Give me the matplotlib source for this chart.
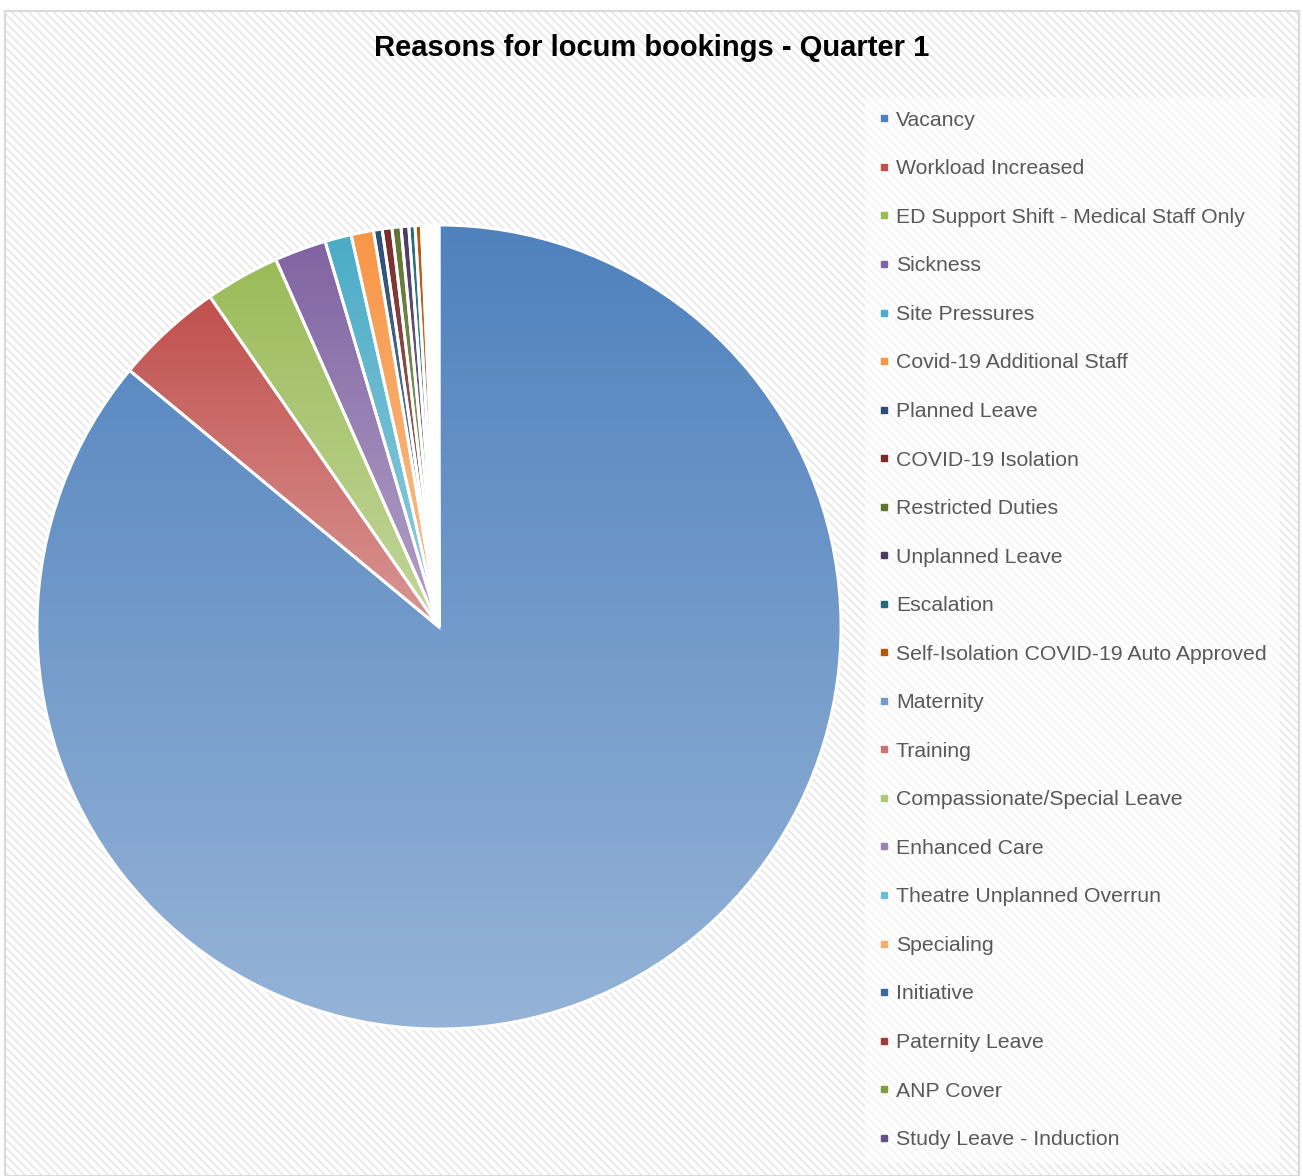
import numpy as np
import matplotlib
matplotlib.use("Agg")
import matplotlib.pyplot as plt
from matplotlib.patches import Rectangle
from matplotlib.lines import Line2D
from matplotlib.colors import to_rgb

plt.rcParams['font.family'] = ['Liberation Sans', 'DejaVu Sans']

title = "Reasons for locum bookings - Quarter 1"
categories = [
    "Vacancy", "Workload Increased", "ED Support Shift - Medical Staff Only",
    "Sickness", "Site Pressures", "Covid-19 Additional Staff", "Planned Leave",
    "COVID-19 Isolation", "Restricted Duties", "Unplanned Leave", "Escalation",
    "Self-Isolation COVID-19 Auto Approved", "Maternity", "Training",
    "Compassionate/Special Leave", "Enhanced Care", "Theatre Unplanned Overrun",
    "Specialing", "Initiative", "Paternity Leave", "ANP Cover",
    "Study Leave - Induction",
]
values = [86.0, 4.33, 3.0, 2.08, 1.06, 0.90, 0.35, 0.39, 0.36, 0.31, 0.25,
          0.25, 0.11, 0.10, 0.09, 0.08, 0.07, 0.06, 0.06, 0.05, 0.04, 0.04]
colors = [
    "#4F81BD", "#C0504D", "#9BBB59", "#8064A2", "#4BACC6", "#F79646",
    "#2C4D75", "#772C2A", "#5F7530", "#4D3B62", "#276A7C", "#B65708",
    "#729ACA", "#CD7371", "#AFC97A", "#9983B5", "#6FBDD1", "#F9AB6B",
    "#3A679C", "#9F3B38", "#7E9D40", "#664F83",
]

W, H = 1303, 1176
fig = plt.figure(figsize=(W / 100, H / 100), dpi=100)
fig.patch.set_facecolor("white")

# hatched chart-area background
plt.rcParams['hatch.linewidth'] = 1.3
bg = Rectangle((5 / W, 0), 1294 / W, 1 - 11 / H, transform=fig.transFigure,
               facecolor="white", edgecolor="#e8e8e8", linewidth=0,
               hatch="\\\\\\\\", zorder=-5)
fig.patches.append(bg)
border = Rectangle((5 / W, 0), 1294 / W, 1 - 11 / H, transform=fig.transFigure,
                   facecolor="none", edgecolor="#d9d9d9", linewidth=1.5, zorder=10)
fig.patches.append(border)

# pie axes
cx, cy, r = 439, 627, 402
ax = fig.add_axes([(cx - r) / W, (H - cy - r) / H, 2 * r / W, 2 * r / H])
ax.set_zorder(2)
ax.axis("off")
ax.patch.set_alpha(0)

wedges, _ = ax.pie(values, colors=colors, startangle=90, counterclock=False,
                   radius=1, wedgeprops=dict(edgecolor="white", linewidth=2.1))

# vertical gradient fill per wedge
for w, c in zip(wedges, colors):
    base = np.array(to_rgb(c))
    light = base + (1 - base) * 0.4
    path = w.get_path().transformed(w.get_patch_transform())
    verts = path.vertices
    y0, y1 = verts[:, 1].min(), verts[:, 1].max()
    t = np.linspace(0, 1, 256)[:, None]  # 0 at top row
    img = (base[None, :] * (1 - t) + light[None, :] * t)[:, None, :]
    im = ax.imshow(img, extent=(-1, 1, y0, y1), origin="upper",
                   aspect="auto", zorder=1, interpolation="bilinear")
    im.set_clip_path(w)
    w.set_facecolor("none")
    w.set_zorder(2)

ax.set_xlim(-1, 1)
ax.set_ylim(-1, 1)
ax.set_aspect("equal")

# title
fig.text(0.5, 1 - 48 / H, title, ha="center", va="center",
         fontsize=21, fontweight="bold", color="black")

# legend
fs = 15.3
handles = [Line2D([], [], linestyle="none", marker="s", markersize=4.5,
                  markerfacecolor=c, markeredgecolor=c) for c in colors]
leg = fig.legend(handles, categories, loc="upper left",
                 bbox_to_anchor=(865 / W, 1 - 97 / H), frameon=True,
                 fontsize=fs, labelcolor="#595959", handlelength=0.45,
                 handletextpad=0.35, labelspacing=1.39, borderaxespad=0,
                 borderpad=0.65, fancybox=False)
leg.set_zorder(5)
frame = leg.get_frame()
frame.set_facecolor("white")
frame.set_alpha(0.55)
frame.set_linewidth(0)

fig.savefig("out.png", dpi=100, facecolor="white")
